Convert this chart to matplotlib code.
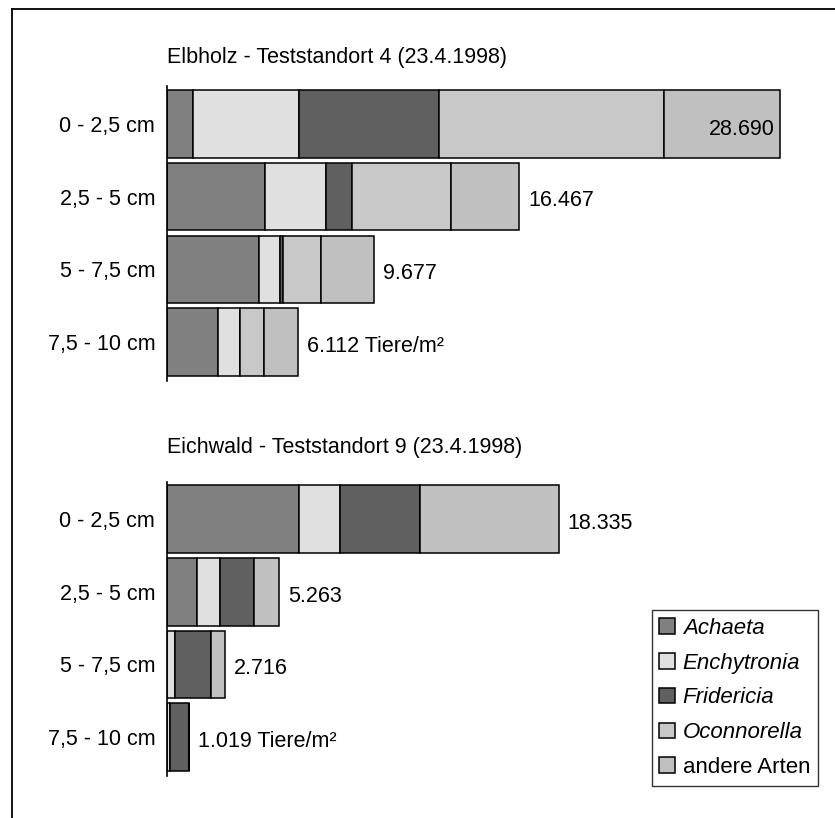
import matplotlib.pyplot as plt
from matplotlib.patches import Patch
from matplotlib.lines import Line2D

plt.rcParams['font.family'] = ['Liberation Sans', 'DejaVu Sans']

depths = ["0 - 2,5 cm", "2,5 - 5 cm", "5 - 7,5 cm", "7,5 - 10 cm"]
species = ["Achaeta", "Enchytronia", "Fridericia", "Oconnorella", "andere Arten"]
colors = ["#808080", "#e0e0e0", "#606060", "#c8c8c8", "#c0c0c0"]

# Tiere/m² per depth layer
elb_achaeta = [1219, 4570, 4310, 2400]
elb_enchytronia = [4969, 2886, 990, 1005]
elb_fridericia = [6563, 1216, 120, 0]
elb_oconnorella = [10501, 4612, 1805, 1130]
elb_andere = [5438, 3183, 2452, 1577]

eich_achaeta = [6172, 1381, 0, 0]
eich_enchytronia = [1945, 1119, 362, 120]
eich_fridericia = [3746, 1566, 1681, 899]
eich_oconnorella = [0, 0, 0, 0]
eich_andere = [6472, 1197, 673, 0]

sites = [
    ("Elbholz - Teststandort 4 (23.4.1998)",
     [elb_achaeta, elb_enchytronia, elb_fridericia, elb_oconnorella, elb_andere]),
    ("Eichwald - Teststandort 9 (23.4.1998)",
     [eich_achaeta, eich_enchytronia, eich_fridericia, eich_oconnorella, eich_andere]),
]

FS = 15.5

fig = plt.figure(figsize=(8.35, 8.18), dpi=100)
W, H = 835, 818

# outer frame (top and left only)
fig.add_artist(Line2D([11.5 / W, 11.5 / W], [0, 1 - 8.5 / H], color="black", lw=1.3))
fig.add_artist(Line2D([11.5 / W, 1], [1 - 8.5 / H, 1 - 8.5 / H], color="black", lw=1.3))

# axes boxes in pixels: (top, bottom), title y
boxes = [((86.2, 380.6), 57), ((481.5, 775.6), 448)]
left_px, right_px = 167, 820

for (title, series), ((top, bottom), ty) in zip(sites, boxes):
    ax = fig.add_axes([left_px / W, 1 - bottom / H, (right_px - left_px) / W, (bottom - top) / H])
    y = list(range(len(depths)))
    lefts = [0] * len(depths)
    for vals, col in zip(series, colors):
        ax.barh(y, vals, left=lefts, height=0.93, color=col, edgecolor="black", linewidth=1.1)
        lefts = [a + b for a, b in zip(lefts, vals)]
    ax.set_xlim(0, 30560)
    ax.set_ylim(3.53, -0.52)
    ax.set_yticks(y)
    ax.set_yticklabels(depths, fontsize=FS)
    ax.tick_params(axis="y", length=0, pad=8.5)
    ax.set_xticks([])
    for s in ["top", "right", "bottom"]:
        ax.spines[s].set_visible(False)
    ax.spines["left"].set_linewidth(1.2)

    for i, tot in enumerate(lefts):
        txt = f"{tot:,}".replace(",", ".")
        if i == len(lefts) - 1:
            txt += " Tiere/m²"
        if tot > 25000:
            ax.annotate(txt, (tot, i), xytext=(-3.5, -4), textcoords="offset points",
                        ha="right", va="center", fontsize=FS)
        else:
            ax.annotate(txt, (tot, i), xytext=(6.5, -3), textcoords="offset points",
                        ha="left", va="center", fontsize=FS)

    fig.text(left_px / W, 1 - ty / H, title, ha="left", va="center", fontsize=FS)

handles = [Patch(facecolor=c, edgecolor="black", linewidth=1.1) for c in colors]
leg = fig.legend(handles, species, loc="upper right",
                 bbox_to_anchor=(818 / W, 1 - 610 / H), borderaxespad=0,
                 fontsize=16, frameon=True, fancybox=False,
                 handlelength=0.7, handleheight=0.7, handletextpad=0.35,
                 labelspacing=0.62, borderpad=0.35)
leg.get_frame().set_edgecolor("black")
leg.get_frame().set_linewidth(1.0)
for t in leg.get_texts()[:4]:
    t.set_fontstyle("italic")

fig.savefig("out.png", dpi=100)
